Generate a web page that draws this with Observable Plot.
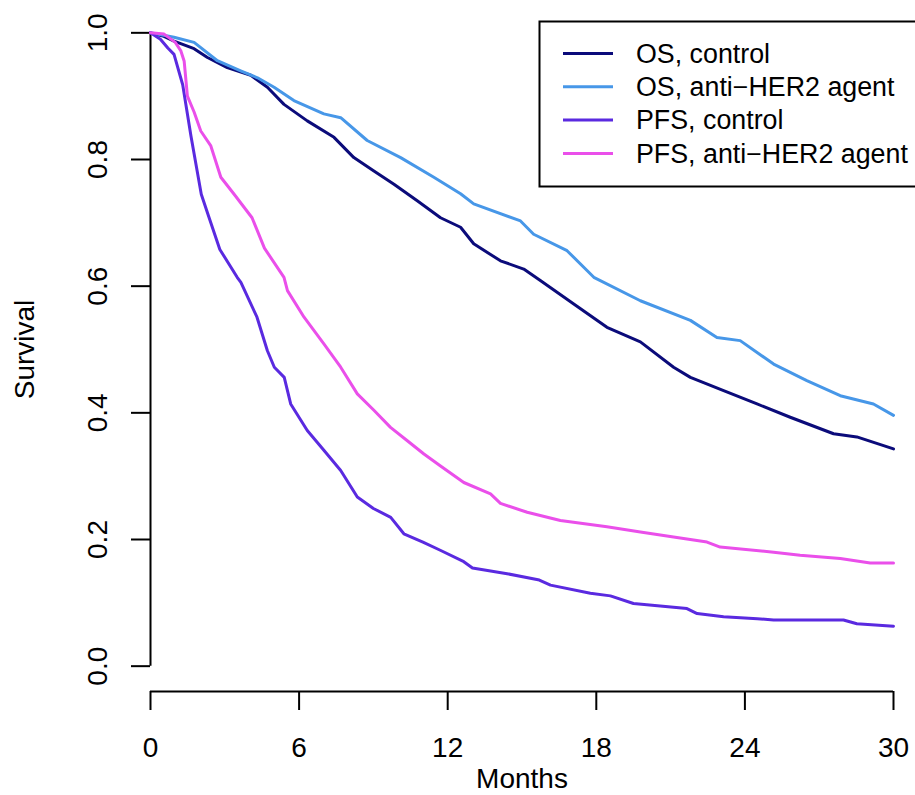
<!DOCTYPE html>
<html><head><meta charset="utf-8">
<script src="https://cdn.jsdelivr.net/npm/d3@7"></script>
<script src="https://cdn.jsdelivr.net/npm/@observablehq/plot@0.6"></script>
<style>
html,body{margin:0;padding:0;background:#fff;overflow:hidden;}
#wrap{position:relative;width:915px;height:795px;overflow:hidden;font-family:"Liberation Sans",Arial,Helvetica,sans-serif;}
#wrap svg{position:absolute;left:0;top:0;}
</style></head><body><div id="wrap"></div>
<script>
const seriesNames = ["OS, control", "OS, anti\u2212HER2 agent", "PFS, control", "PFS, anti\u2212HER2 agent"];
const seriesColors = ["#0b0b7a", "#4797e8", "#5a2ae0", "#ea4fea"];
const xTicks = [0, 6, 12, 18, 24, 30];
const yTicks = [0, 0.2, 0.4, 0.6, 0.8, 1.0];

const osControlT = [0, 0.5, 0.95, 1.76, 2.3, 3.1, 4.05, 4.72, 5.39, 6.33, 7.41, 8.21, 9.02, 9.83, 10.77, 11.71, 12.52, 13.05, 14.13, 15.07, 15.74, 17.09, 18.43, 19.78, 21.12, 21.8, 23.14, 24.49, 25.83, 27.58, 28.52, 30];
const osControlS = [1.0, 0.995, 0.987, 0.975, 0.961, 0.945, 0.933, 0.914, 0.887, 0.861, 0.835, 0.803, 0.782, 0.761, 0.735, 0.708, 0.693, 0.667, 0.640, 0.627, 0.609, 0.572, 0.535, 0.512, 0.472, 0.456, 0.435, 0.414, 0.393, 0.367, 0.362, 0.343];

const osHer2T = [0, 0.95, 1.76, 2.7, 3.64, 4.32, 4.99, 5.79, 7.0, 7.68, 8.75, 10.1, 11.44, 12.52, 13.05, 14.94, 15.47, 16.82, 17.9, 19.78, 21.8, 22.87, 23.81, 25.16, 26.5, 27.85, 29.19, 30];
const osHer2S = [1.0, 0.993, 0.985, 0.956, 0.940, 0.929, 0.914, 0.893, 0.872, 0.866, 0.830, 0.803, 0.772, 0.746, 0.730, 0.703, 0.682, 0.656, 0.614, 0.577, 0.546, 0.519, 0.514, 0.477, 0.451, 0.427, 0.414, 0.396];

const pfsControlT = [0, 0.4, 0.7, 0.95, 1.3, 1.63, 2.05, 2.35, 2.8, 3.5, 3.65, 4.3, 4.72, 5.0, 5.4, 5.66, 6.33, 7.0, 7.68, 8.35, 9.0, 9.7, 10.23, 11.0, 11.7, 12.65, 13.0, 14.4, 15.7, 16.15, 17.76, 18.57, 19.5, 21.66, 22.07, 23.14, 24.5, 25.16, 27.98, 28.52, 30];
const pfsControlS = [1.0, 0.99, 0.976, 0.966, 0.918, 0.838, 0.745, 0.71, 0.658, 0.614, 0.606, 0.551, 0.498, 0.472, 0.456, 0.414, 0.372, 0.341, 0.309, 0.267, 0.249, 0.235, 0.209, 0.196, 0.183, 0.165, 0.155, 0.146, 0.136, 0.128, 0.115, 0.111, 0.099, 0.091, 0.083, 0.078, 0.075, 0.073, 0.073, 0.067, 0.063];

const pfsHer2T = [0, 0.55, 1.0, 1.22, 1.36, 1.49, 1.76, 2.03, 2.43, 2.84, 3.4, 4.1, 4.6, 5.39, 5.53, 6.2, 7.0, 7.68, 8.35, 9.02, 9.69, 10.37, 11.04, 11.71, 12.65, 13.73, 14.13, 15.21, 16.55, 18.43, 19.78, 21.12, 22.47, 23.0, 25.16, 26.23, 27.85, 29.06, 30];
const pfsHer2S = [1.0, 0.998, 0.985, 0.972, 0.955, 0.90, 0.875, 0.845, 0.822, 0.772, 0.744, 0.708, 0.66, 0.614, 0.593, 0.551, 0.509, 0.472, 0.430, 0.404, 0.377, 0.356, 0.335, 0.316, 0.29, 0.272, 0.257, 0.243, 0.230, 0.220, 0.212, 0.204, 0.196, 0.188, 0.180, 0.175, 0.170, 0.163, 0.163];

const seriesT = [osControlT, osHer2T, pfsControlT, pfsHer2T];
const seriesS = [osControlS, osHer2S, pfsControlS, pfsHer2S];
const rows = seriesNames.flatMap((name, i) => seriesT[i].map((t, j) => ({series: name, t, s: seriesS[i][j]})));

const font = '"Liberation Sans", Arial, Helvetica, sans-serif';
const yDomain = [-0.04, 1.04];

const chart = Plot.plot({
  width: 915, height: 795,
  marginLeft: 150, marginRight: 22, marginTop: 7, marginBottom: 104,
  style: {fontFamily: font, fontSize: "28px", color: "#000", background: "#fff", overflow: "visible"},
  x: {domain: [xTicks[0], xTicks[xTicks.length - 1]]},
  y: {domain: yDomain},
  color: {domain: seriesNames, range: seriesColors},
  marks: [
    Plot.ruleY([yDomain[0]], {x1: xTicks[0], x2: xTicks[xTicks.length - 1], stroke: "#000", strokeWidth: 2}),
    Plot.ruleX([xTicks[0]], {y1: yTicks[0], y2: yTicks[yTicks.length - 1], stroke: "#000", strokeWidth: 2}),
    Plot.axisX({ticks: xTicks, tickSize: 19, tickPadding: 27, strokeWidth: 2, fontSize: 28,
      label: "Months", labelAnchor: "center", labelOffset: 96, labelArrow: false}),
    Plot.axisY({ticks: yTicks, tickSize: 19, tickPadding: 25, tickRotate: -90, strokeWidth: 2, fontSize: 28,
      tickFormat: d3.format(".1f"), label: "Survival", labelAnchor: "center", labelOffset: 136, labelArrow: false}),
    Plot.line(rows, {x: "t", y: "s", stroke: "series", z: "series", strokeWidth: 3})
  ]
});
document.getElementById("wrap").appendChild(chart);

// Legend (R-style boxed legend inside plot area, right part cut by the image edge)
const lg = d3.select("#wrap").append("svg")
  .attr("width", 915).attr("height", 795)
  .style("pointer-events", "none");
lg.append("rect").attr("x", 539.5).attr("y", 21.5).attr("width", 420).attr("height", 165)
  .attr("fill", "#fff").attr("stroke", "#000").attr("stroke-width", 2);
seriesNames.forEach((name, i) => {
  const y = 53.5 + i * 33.3;
  lg.append("line").attr("x1", 563).attr("x2", 613).attr("y1", y).attr("y2", y)
    .attr("stroke", seriesColors[i]).attr("stroke-width", 3);
  lg.append("text").attr("x", 636).attr("y", y).attr("dy", "0.35em")
    .attr("font-family", font).attr("font-size", 26.8).attr("fill", "#000").text(name);
});
</script></body></html>
